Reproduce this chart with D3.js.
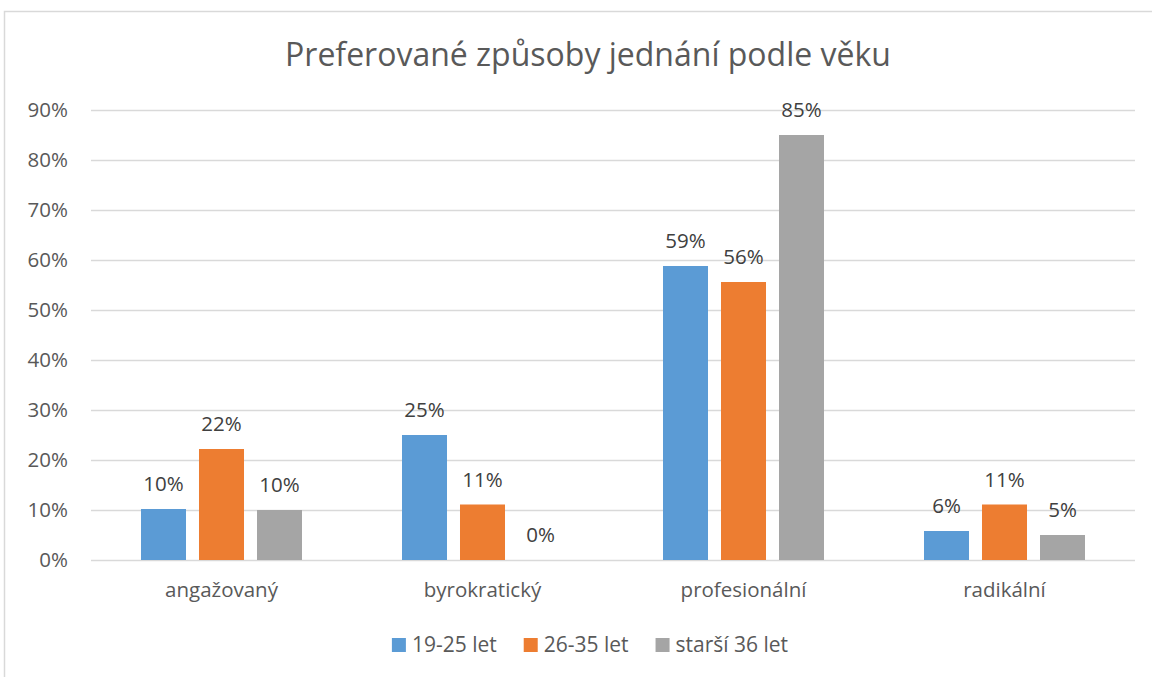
<!DOCTYPE html>
<html>
<head>
<meta charset="utf-8">
<script src="https://cdn.jsdelivr.net/npm/d3@7"></script>
<style>
  body { margin: 0; background: #fff; }
  svg { display: block; font-family: "Open Sans", sans-serif; }
</style>
</head>
<body>
<div id="chart"></div>
<script>
// Data
const categories = ['angažovaný', 'byrokratický', 'profesionální', 'radikální'];
const seriesNames = ['19-25 let', '26-35 let', 'starší 36 let'];
const seriesColors = ['#5B9BD5', '#ED7D31', '#A5A5A5'];
const young = [0.102, 0.25, 0.588, 0.058];
const middle = [0.222, 0.111, 0.556, 0.111];
const older = [0.10, 0, 0.85, 0.05];
const yTicks = [0, 0.1, 0.2, 0.3, 0.4, 0.5, 0.6, 0.7, 0.8, 0.9];
const titleText = 'Preferované způsoby jednání podle věku';

const seriesValues = [young, middle, older];

const width = 1152, height = 677;
const chartCenter = 588;
const fontFamily = '"Open Sans", sans-serif';

const svg = d3.select('#chart')
    .append('svg')
    .attr('width', width)
    .attr('height', height);

// Chart border
svg.append('rect')
    .attr('x', 4.5)
    .attr('y', 11.5)
    .attr('width', 1180)
    .attr('height', 700)
    .attr('fill', 'none')
    .attr('stroke', '#d9d9d9')
    .attr('stroke-width', 1.5);

// Title
svg.append('text')
    .attr('x', chartCenter)
    .attr('y', 66)
    .attr('text-anchor', 'middle')
    .attr('font-size', '32px')
    .attr('fill', '#595959')
    .text(titleText);

// Scales
const x0 = d3.scaleBand()
    .domain(categories)
    .range([91, 1135]);

const x1 = d3.scaleBand()
    .domain(seriesNames)
    .range([0, x0.bandwidth()])
    .paddingInner(0.224)
    .paddingOuter(0.862);

const y = d3.scaleLinear()
    .domain([0, 0.9])
    .range([560, 110]);

// Gridlines
svg.append('g')
    .selectAll('line')
    .data(yTicks)
    .enter()
    .append('line')
    .attr('x1', 91)
    .attr('x2', 1135)
    .attr('y1', d => Math.round(y(d)) + 0.5)
    .attr('y2', d => Math.round(y(d)) + 0.5)
    .attr('stroke', '#d9d9d9')
    .attr('stroke-width', 1.5);

// Y axis labels
const yAxis = d3.axisLeft(y)
    .tickValues(yTicks)
    .tickFormat(d3.format('.0%'))
    .tickSize(0)
    .tickPadding(0);

const yAxisG = svg.append('g')
    .attr('transform', 'translate(68,0)')
    .call(yAxis);
yAxisG.select('.domain').remove();
yAxisG.selectAll('text')
    .attr('font-family', fontFamily)
    .attr('font-size', '20.5px')
    .attr('fill', '#595959');

// Bars
const groups = svg.append('g')
    .selectAll('g')
    .data(categories)
    .enter()
    .append('g')
    .attr('transform', d => `translate(${x0(d)},0)`);

groups.selectAll('rect')
    .data((c, i) => seriesNames.map((s, j) => ({ series: s, idx: j, value: seriesValues[j][i] })))
    .enter()
    .append('rect')
    .attr('x', d => x1(d.series))
    .attr('width', x1.bandwidth())
    .attr('y', d => y(d.value))
    .attr('height', d => y(0) - y(d.value))
    .attr('fill', d => seriesColors[d.idx]);

// Data labels
groups.selectAll('text')
    .data((c, i) => seriesNames.map((s, j) => ({ series: s, idx: j, value: seriesValues[j][i] })))
    .enter()
    .append('text')
    .attr('x', d => x1(d.series) + x1.bandwidth() / 2)
    .attr('y', d => y(d.value) - 18)
    .attr('text-anchor', 'middle')
    .attr('font-size', '20.5px')
    .attr('fill', '#404040')
    .text(d => d3.format('.0%')(d.value));

// Category labels
const xAxis = d3.axisBottom(x0)
    .tickSize(0)
    .tickPadding(0);

const xAxisG = svg.append('g')
    .attr('transform', 'translate(0,582)')
    .call(xAxis);
xAxisG.select('.domain').remove();
xAxisG.selectAll('text')
    .attr('font-family', fontFamily)
    .attr('font-size', '20.5px')
    .attr('fill', '#595959');

// Legend
const legend = svg.append('g');
const items = legend.selectAll('g')
    .data(seriesNames)
    .enter()
    .append('g');

items.append('rect')
    .attr('width', 14)
    .attr('height', 14)
    .attr('y', 638)
    .attr('fill', (d, i) => seriesColors[i]);

items.append('text')
    .attr('x', 20)
    .attr('y', 652)
    .attr('font-size', '21px')
    .attr('fill', '#595959')
    .text(d => d);

let offset = 0;
const positions = [];
items.each(function() {
    positions.push(offset);
    offset += this.getBBox().width + 27;
});
const legendWidth = offset - 27;
items.attr('transform', (d, i) => `translate(${positions[i]},0)`);
legend.attr('transform', `translate(${590 - legendWidth / 2},0)`);
</script>
</body>
</html>
